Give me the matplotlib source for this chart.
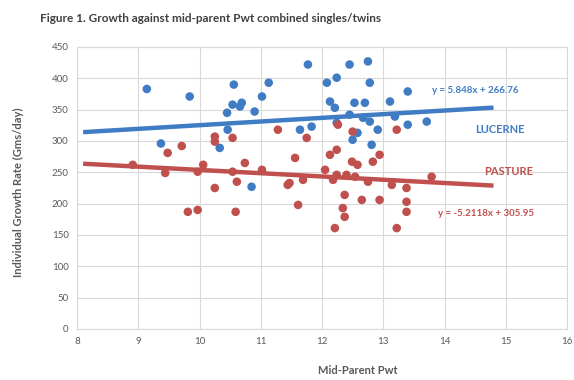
import matplotlib
matplotlib.use("Agg")
import matplotlib.pyplot as plt
import numpy as np

plt.rcParams['font.family'] = ['Lato', 'DejaVu Sans']

# Lucerne (blue) points: mid-parent Pwt, growth rate
lucerne_x = [9.14, 9.84, 9.37, 10.56, 11.13, 11.02, 10.54, 10.66, 10.45, 10.90,
             10.46, 10.33, 10.85, 10.69, 11.77, 12.08, 12.24, 12.45, 12.75, 12.78,
             13.40, 12.13, 12.21, 12.53, 12.70, 13.11, 12.45, 12.67, 12.78, 13.19,
             13.40, 13.71, 12.91, 12.58, 12.50, 12.81, 11.64, 11.83, 12.24]
lucerne_y = [383, 371, 296, 390, 393, 371, 358, 355, 345, 347,
             318, 289, 227, 361, 422, 393, 401, 422, 427, 393,
             379, 363, 353, 361, 361, 363, 342, 337, 331, 339,
             326, 331, 318, 313, 302, 294, 318, 323, 329]

# Pasture (red) points
pasture_x = [9.71, 9.48, 10.25, 10.25, 10.54, 11.28, 8.91, 9.44, 9.97, 10.06,
             10.54, 10.61, 10.74, 10.25, 9.81, 9.97, 10.59, 11.44, 11.02, 11.56,
             11.47, 11.69, 11.61, 12.13, 12.24, 12.05, 12.18, 12.21, 11.75, 12.26,
             12.50, 13.22, 12.49, 12.58, 12.83, 12.94, 12.24, 12.40, 12.54, 12.75,
             13.14, 13.38, 12.37, 12.65, 12.94, 13.38, 12.34, 12.37, 13.38, 13.22,
             13.79]
pasture_y = [292, 281, 307, 299, 305, 318, 262, 249, 251, 262,
             251, 235, 265, 225, 187, 190, 187, 230, 254, 273,
             233, 238, 198, 278, 286, 254, 238, 161, 305, 326,
             315, 318, 267, 262, 267, 278, 246, 246, 243, 235,
             230, 225, 214, 206, 206, 203, 193, 179, 187, 161,
             243]

# Trendlines
lucerne_slope, lucerne_int = 5.848, 266.76
pasture_slope, pasture_int = -5.2118, 305.95
trend_x = [8.1, 14.8]

x_ticks = [8, 9, 10, 11, 12, 13, 14, 15, 16]
y_ticks = list(range(0, 451, 50))

blue = '#3F7CC4'
red = '#C0504D'
grey_text = '#595959'

fig = plt.figure(figsize=(5.74, 3.80), dpi=100)
ax = fig.add_axes([77/574, 51/380, 490/574, 282/380])

ax.set_xlim(8, 16)
ax.set_ylim(0, 450)
ax.set_xticks(x_ticks)
ax.set_yticks(y_ticks)
ax.grid(True, color='#D9D9D9', linewidth=0.8)
ax.set_axisbelow(True)
for s in ax.spines.values():
    s.set_color('#D9D9D9')
    s.set_linewidth(0.8)
ax.tick_params(length=0, labelsize=7, colors=grey_text, pad=6)

ax.scatter(lucerne_x, lucerne_y, s=38, color=blue, zorder=3, edgecolors='none')
ax.scatter(pasture_x, pasture_y, s=38, color=red, zorder=3, edgecolors='none')

tx = np.array(trend_x)
ax.plot(tx, lucerne_slope * tx + lucerne_int, color=blue, linewidth=3.2, zorder=2,
        solid_capstyle='butt')
ax.plot(tx, pasture_slope * tx + pasture_int, color=red, linewidth=3.2, zorder=2,
        solid_capstyle='butt')

ax.text(13.8, 380, 'y = 5.848x + 266.76', color=blue, fontsize=7, fontweight='bold',
        va='center', ha='left')
ax.text(14.5, 318, 'LUCERNE', color=blue, fontsize=8, fontweight='bold',
        va='center', ha='left')
ax.text(14.65, 251, 'PASTURE', color=red, fontsize=8, fontweight='bold',
        va='center', ha='left')
ax.text(13.9, 185, 'y = -5.2118x + 305.95', color=red, fontsize=7, fontweight='bold',
        va='center', ha='left')

fig.text(40/574, 1 - 18/380, 'Figure 1. Growth against mid-parent Pwt combined singles/twins',
         fontsize=8.5, fontweight='bold', color='#404040', va='center', ha='left')
fig.text(358/574, 1 - 370/380, 'Mid-Parent Pwt', fontsize=8, fontweight='bold',
         color=grey_text, va='center', ha='center')
fig.text(18/574, 1 - 192/380, 'Individual Growth Rate (Gms/day)', fontsize=8,
         fontweight='bold', color=grey_text, va='center', ha='center', rotation=90)

fig.savefig('out.png', dpi=100, facecolor='white')
